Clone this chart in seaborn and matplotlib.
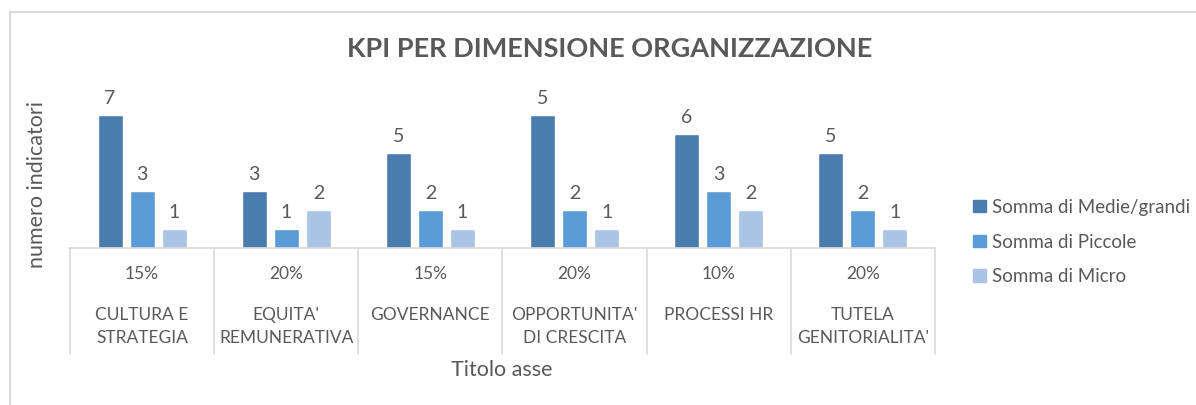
import matplotlib
matplotlib.use("Agg")
import matplotlib.pyplot as plt
import seaborn as sns
import pandas as pd
from matplotlib.patches import Rectangle
from matplotlib.lines import Line2D

categories = ["CULTURA E\nSTRATEGIA", "EQUITA'\nREMUNERATIVA", "GOVERNANCE",
              "OPPORTUNITA'\nDI CRESCITA", "PROCESSI HR", "TUTELA\nGENITORIALITA'"]
percents = ["15%", "20%", "15%", "20%", "10%", "20%"]
series = ["Somma di Medie/grandi", "Somma di Piccole", "Somma di Micro"]
# bar heights as drawn
medie_grandi = [7, 3, 5, 7, 6, 5]
piccole = [3, 1, 2, 2, 3, 2]
micro = [1, 2, 1, 1, 2, 1]
# data labels as shown
medie_grandi_lbl = [7, 3, 5, 5, 6, 5]
piccole_lbl = [3, 1, 2, 2, 3, 2]
micro_lbl = [1, 2, 1, 1, 2, 1]
colors = ["#4A7DAF", "#5B9BD5", "#A9C4E5"]

TXT = "#595959"
FONT = ["Lato", "DejaVu Sans"]

sns.set_theme(style="white")
plt.rcParams["font.family"] = FONT

df = pd.DataFrame({
    "cat": categories * 3,
    "serie": [s for s in series for _ in categories],
    "val": medie_grandi + piccole + micro,
})

fig = plt.figure(figsize=(11.96, 4.05), dpi=100)
W, H = 1196, 405
ax = fig.add_axes([70 / W, (H - 248) / H, 865 / W, 152 / H])

sns.barplot(data=df, x="cat", y="val", hue="serie", hue_order=series,
            order=categories, palette=colors, width=0.667, gap=0.22,
            ax=ax, legend=False, errorbar=None, saturation=1)

ax.set_ylim(0, 8)
ax.set_xlim(-0.5, len(categories) - 0.5)
for s in ["top", "right", "left"]:
    ax.spines[s].set_visible(False)
ax.spines["bottom"].set_color("#D9D9D9")
ax.spines["bottom"].set_linewidth(1.2)
ax.set_yticks([])
ax.set_xticks([])
ax.set_xlabel("")
ax.set_ylabel("")

for cont, lbls in zip(ax.containers, [medie_grandi_lbl, piccole_lbl, micro_lbl]):
    ax.bar_label(cont, labels=[str(v) for v in lbls], padding=6,
                 fontsize=14, color=TXT)

trans = ax.get_xaxis_transform()
for i in range(len(categories) + 1):
    ax.add_line(Line2D([i - 0.5, i - 0.5], [0, -0.70], transform=trans,
                       color="#D9D9D9", lw=1.2, clip_on=False))
for i, (c, p) in enumerate(zip(categories, percents)):
    ax.text(i, -0.17, p, transform=trans, ha="center", va="center",
            fontsize=12.5, color=TXT)
    ax.text(i, -0.39, c, transform=trans, ha="center", va="top",
            fontsize=12.5, color=TXT, linespacing=1.5)

fig.text(502 / W, 1 - 370 / H, "Titolo asse", ha="center", va="center",
         fontsize=15.5, color=TXT)
fig.text(37 / W, 1 - 184 / H, "numero indicatori", ha="center", va="center",
         rotation=90, fontsize=15.5, color=TXT)
fig.text(610 / W, 1 - 49 / H, "KPI PER DIMENSIONE ORGANIZZAZIONE", ha="center",
         va="center", fontsize=19.5, fontweight="bold", color=TXT)

handles = [Rectangle((0, 0), 1, 1, color=c) for c in colors]
leg = fig.legend(handles, series, loc="center left",
                 bbox_to_anchor=(964 / W, 1 - 242 / H), frameon=False,
                 fontsize=13.5, handlelength=0.65, handleheight=0.65,
                 handletextpad=0.35, labelspacing=0.95, borderpad=0)
for t in leg.get_texts():
    t.set_color(TXT)

fig.add_artist(Rectangle((10 / W, -0.1), 1.2, (1 - 12 / H) + 0.1,
                         transform=fig.transFigure, fill=False,
                         edgecolor="#D9D9D9", lw=1.5))

fig.savefig("out.png", dpi=100, facecolor="white")
